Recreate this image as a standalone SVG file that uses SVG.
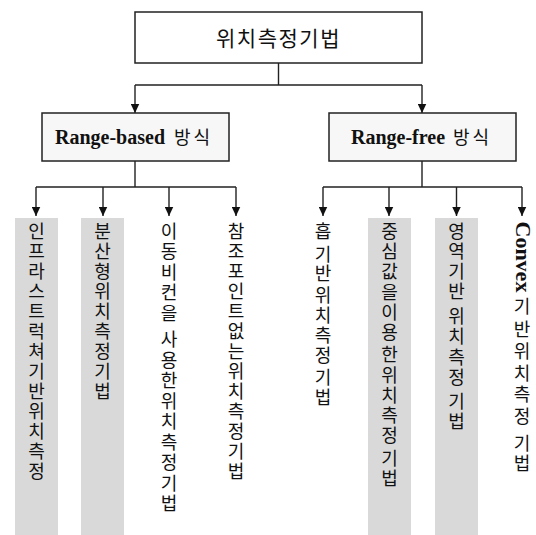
<svg xmlns="http://www.w3.org/2000/svg" width="536" height="535" viewBox="0 0 536 535">
<style>
.box{fill:#ffffff;stroke:#222;stroke-width:1.5}
.box2{fill:#f7f7f7;stroke:#222;stroke-width:1.5}
.gray{fill:#d9d9d9;stroke:none}
.line{fill:none;stroke:#222;stroke-width:1.4}
.kr{font-family:"Noto Sans CJK KR","Noto Sans",sans-serif;fill:#111}
.col{font-family:"Noto Sans CJK KR","Noto Sans",sans-serif;font-size:18px;fill:#111;text-anchor:middle}
.lat{font-family:"Liberation Serif",serif;font-weight:bold;fill:#111}
</style>
<defs>
<marker id="ah" markerUnits="userSpaceOnUse" markerWidth="9" markerHeight="9" refX="9" refY="4.25" orient="auto" viewBox="0 0 9 8.5">
<path d="M0,0 L9,4.25 L0,8.5 Z" fill="#111"/>
</marker>
</defs>

<g id="backgrounds">
<rect class="gray" x="15" y="218" width="43" height="317"/>
<rect class="gray" x="81" y="218" width="43" height="317"/>
<rect class="gray" x="368" y="218" width="43" height="317"/>
<rect class="gray" x="435" y="218" width="43" height="317"/>
</g>

<g id="connectors">
<path class="line" d="M278.5,63 V85 M135,85 H422"/>
<path class="line" d="M135,85 V113" marker-end="url(#ah)"/>
<path class="line" d="M422,85 V113" marker-end="url(#ah)"/>
<path class="line" d="M135,161 V187 M36,187 H236"/>
<path class="line" d="M36,187 V216" marker-end="url(#ah)"/>
<path class="line" d="M103,187 V216" marker-end="url(#ah)"/>
<path class="line" d="M169,187 V216" marker-end="url(#ah)"/>
<path class="line" d="M236,187 V216" marker-end="url(#ah)"/>
<path class="line" d="M422,161 V187 M323,187 H522"/>
<path class="line" d="M323,187 V216" marker-end="url(#ah)"/>
<path class="line" d="M389,187 V216" marker-end="url(#ah)"/>
<path class="line" d="M456.5,187 V216" marker-end="url(#ah)"/>
<path class="line" d="M522,187 V216" marker-end="url(#ah)"/>
</g>

<g id="root">
<rect class="box" x="135" y="12" width="287" height="51"/>
<text class="kr" x="278.5" y="45.5" font-size="21" letter-spacing="1.5" text-anchor="middle">위치측정기법</text>
</g>

<g id="range-based">
<rect class="box2" x="42" y="113" width="187" height="48"/>
<text y="143.5"><tspan class="lat" x="55" font-size="20">Range-based</tspan><tspan class="kr" x="174" font-size="18" letter-spacing="3">방식</tspan></text>
</g>

<g id="range-free">
<rect class="box2" x="329" y="113" width="187" height="48"/>
<text y="143.5"><tspan class="lat" x="351" font-size="20">Range-free</tspan><tspan class="kr" x="453" font-size="18" letter-spacing="3">방식</tspan></text>
</g>

<g id="infra">
<text class="col"><tspan x="36.5" y="237.5">인</tspan><tspan x="36.5" y="257.5">프</tspan><tspan x="36.5" y="277.5">라</tspan><tspan x="36.5" y="297.5">스</tspan><tspan x="36.5" y="317.5">트</tspan><tspan x="36.5" y="337.5">럭</tspan><tspan x="36.5" y="357.5">쳐</tspan><tspan x="36.5" y="377.5">기</tspan><tspan x="36.5" y="397.5">반</tspan><tspan x="36.5" y="417.5">위</tspan><tspan x="36.5" y="437.5">치</tspan><tspan x="36.5" y="457.5">측</tspan><tspan x="36.5" y="477.5">정</tspan></text>
</g>

<g id="distributed">
<text class="col"><tspan x="102.5" y="237.5">분</tspan><tspan x="102.5" y="257.5">산</tspan><tspan x="102.5" y="277.5">형</tspan><tspan x="102.5" y="297.5">위</tspan><tspan x="102.5" y="317.5">치</tspan><tspan x="102.5" y="337.5">측</tspan><tspan x="102.5" y="357.5">정</tspan><tspan x="102.5" y="377.5">기</tspan><tspan x="102.5" y="397.5">법</tspan></text>
</g>

<g id="mobile-beacon">
<text class="col"><tspan x="169" y="237.5">이</tspan><tspan x="169" y="258">동</tspan><tspan x="169" y="278.5">비</tspan><tspan x="169" y="299">컨</tspan><tspan x="169" y="319.5">을</tspan><tspan x="169" y="346">사</tspan><tspan x="169" y="366.5">용</tspan><tspan x="169" y="387">한</tspan><tspan x="169" y="407.5">위</tspan><tspan x="169" y="428">치</tspan><tspan x="169" y="448.5">측</tspan><tspan x="169" y="469">정</tspan><tspan x="169" y="489.5">기</tspan><tspan x="169" y="510">법</tspan></text>
</g>

<g id="no-reference">
<text class="col"><tspan x="236" y="237.5">참</tspan><tspan x="236" y="257.5">조</tspan><tspan x="236" y="277.5">포</tspan><tspan x="236" y="297.5">인</tspan><tspan x="236" y="317.5">트</tspan><tspan x="236" y="337.5">없</tspan><tspan x="236" y="357.5">는</tspan><tspan x="236" y="377.5">위</tspan><tspan x="236" y="397.5">치</tspan><tspan x="236" y="417.5">측</tspan><tspan x="236" y="437.5">정</tspan><tspan x="236" y="457.5">기</tspan><tspan x="236" y="477.5">법</tspan></text>
</g>

<g id="hop">
<text class="col"><tspan x="323" y="237.5">흡</tspan><tspan x="323" y="260.5">기</tspan><tspan x="323" y="280">반</tspan><tspan x="323" y="302">위</tspan><tspan x="323" y="322">치</tspan><tspan x="323" y="342">측</tspan><tspan x="323" y="362">정</tspan><tspan x="323" y="384">기</tspan><tspan x="323" y="404">법</tspan></text>
</g>

<g id="centroid">
<text class="col"><tspan x="389.5" y="237.5">중</tspan><tspan x="389.5" y="257.5">심</tspan><tspan x="389.5" y="277.5">값</tspan><tspan x="389.5" y="299">을</tspan><tspan x="389.5" y="319">이</tspan><tspan x="389.5" y="339">용</tspan><tspan x="389.5" y="360.5">한</tspan><tspan x="389.5" y="382">위</tspan><tspan x="389.5" y="402">치</tspan><tspan x="389.5" y="422">측</tspan><tspan x="389.5" y="442">정</tspan><tspan x="389.5" y="465">기</tspan><tspan x="389.5" y="485">법</tspan></text>
</g>

<g id="area">
<text class="col"><tspan x="456.5" y="237.5">영</tspan><tspan x="456.5" y="257.8">역</tspan><tspan x="456.5" y="278.1">기</tspan><tspan x="456.5" y="298.4">반</tspan><tspan x="456.5" y="322.8">위</tspan><tspan x="456.5" y="343.3">치</tspan><tspan x="456.5" y="363.8">측</tspan><tspan x="456.5" y="384.3">정</tspan><tspan x="456.5" y="407.8">기</tspan><tspan x="456.5" y="428.3">법</tspan></text>
</g>

<g id="convex">
<text class="lat" font-size="22" transform="translate(516 221.5) rotate(90)">Convex</text>
<text class="col"><tspan x="522" y="312.8">기</tspan><tspan x="522" y="336.2">반</tspan><tspan x="522" y="357.8">위</tspan><tspan x="522" y="379.5">치</tspan><tspan x="522" y="401.2">측</tspan><tspan x="522" y="422.8">정</tspan><tspan x="522" y="449.5">기</tspan><tspan x="522" y="469.5">법</tspan></text>
</g>
</svg>
